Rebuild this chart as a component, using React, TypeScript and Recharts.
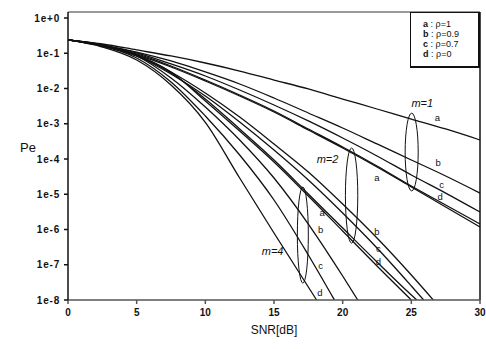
import { LineChart, Line, XAxis, YAxis, ReferenceLine, ReferenceArea, ReferenceDot } from "recharts";

// SNR grid (dB) shared by all curves
const snr = [0, 2.5, 5, 7.5, 10, 12.5, 15, 17.5, 20, 22.5, 25, 27.5, 30];

// Pe; truncated curves end where they hit 1e-8
const m1a = [0.238, 0.183, 0.124, 0.0836, 0.0529, 0.0313, 0.0174, 0.00968, 0.00503, 0.00262, 0.00136, 7.1e-4, 3.46e-4];
const m1b = [0.238, 0.171, 0.108, 0.0603, 0.0294, 0.0134, 0.00537, 0.00202, 7.57e-4, 2.67e-4, 9.37e-5, 3.3e-5, 1.08e-5];
const m1c = [0.238, 0.171, 0.102, 0.0496, 0.0226, 0.00906, 0.0034, 0.0012, 3.94e-4, 1.22e-4, 3.52e-5, 1.08e-5, 3.13e-6];
const m1d = [0.238, 0.161, 0.0953, 0.0435, 0.0174, 0.00654, 0.0023, 7.1e-4, 2.19e-4, 6.33e-5, 1.71e-5, 4.95e-6, 1.43e-6];
const m2a = [0.238, 0.161, 0.0892, 0.0407, 0.0163, 0.00612, 0.00215, 6.65e-4, 2.05e-4, 5.93e-5, 1.61e-5, 4.35e-6, 1.18e-6];
const m2b = [0.238, 0.171, 0.0892, 0.0294, 0.00745, 0.00155, 2.67e-4, 4.28e-5, 5.28e-6, 5.74e-7, 5.12e-8, 1e-8];
const m2c = [0.238, 0.161, 0.0836, 0.0258, 0.00612, 0.00112, 1.8e-4, 2.54e-5, 2.94e-6, 2.99e-7, 2.5e-8, 1e-8];
const m2d = [0.238, 0.161, 0.0836, 0.0275, 0.00503, 7.1e-4, 9.37e-5, 1.02e-5, 1.1e-6, 1.2e-7, 1.39e-8, 1e-8];
const m4a = [0.238, 0.171, 0.0892, 0.0294, 0.00442, 6.22e-4, 8.22e-5, 8.91e-6, 9.06e-7, 9.22e-8, 1e-8];
const m4b = [0.238, 0.161, 0.0836, 0.0199, 0.00299, 3.46e-4, 2.89e-5, 1.43e-6, 4.8e-8, 1e-8];
const m4c = [0.238, 0.161, 0.0733, 0.0153, 0.00166, 1.3e-4, 6.87e-6, 1.89e-7, 1e-8];
const m4d = [0.238, 0.15, 0.0644, 0.0126, 0.0011, 2.89e-5, 7.96e-7, 2.34e-8, 1e-8];

const yTicks = [1, 1e-1, 1e-2, 1e-3, 1e-4, 1e-5, 1e-6, 1e-7, 1e-8];
const xTicks = [0, 5, 10, 15, 20, 25, 30];
const legendRows = [
  ["a", "ρ=1"],
  ["b", "ρ=0.9"],
  ["c", "ρ=0.7"],
  ["d", "ρ=0"],
];

function pts(vals: number[], end?: number) {
  return vals.map((pe, i) => ({
    snr: end !== undefined && i === vals.length - 1 ? end : snr[i],
    pe,
  }));
}

const curves = [
  pts(m1a), pts(m1b), pts(m1c), pts(m1d),
  pts(m2a), pts(m2b, 26.6), pts(m2c, 25.9), pts(m2d, 25.4),
  pts(m4a), pts(m4b, 21.1), pts(m4c, 19.4), pts(m4d, 18.1),
];

// annotations: group ellipses and letters
const groups = [
  { m: "m=1", lx: 25.8, ly: 3.9e-3, x1: 24.55, x2: 25.5, y1: 2.0e-3, y2: 1.24e-5 },
  { m: "m=2", lx: 18.9, ly: 1e-4, x1: 20.2, x2: 21.1, y1: 2.05e-4, y2: 4.1e-7 },
  { m: "m=4", lx: 14.9, ly: 2.45e-7, x1: 16.7, x2: 17.5, y1: 1.6e-5, y2: 3.0e-8 },
];
const letters: [string, number, number][] = [
  ["a", 26.9, 1.46e-3], ["b", 26.95, 8.2e-5], ["c", 27.2, 1.9e-5], ["d", 27.1, 8.8e-6],
  ["a", 22.5, 3.08e-5], ["b", 22.5, 8.5e-7], ["c", 22.6, 2.8e-7], ["d", 22.6, 1.25e-7],
  ["a", 18.5, 3.13e-6], ["b", 18.4, 9.7e-7], ["c", 18.4, 9.8e-8], ["d", 18.35, 1.58e-8],
];

const sans = "'Liberation Sans', Arial, sans-serif";

function fmtExp(v: number) {
  const e = Math.round(Math.log10(v));
  return e >= 0 ? `1e+${e}` : `1e${e}`;
}

const textShape = (t: string, size: number, italic = false) => (p: any) => (
  <text
    x={p.cx}
    y={p.cy}
    textAnchor="middle"
    dominantBaseline="central"
    fontFamily={sans}
    fontSize={size}
    fontStyle={italic ? "italic" : "normal"}
    fill="#111"
  >
    {t}
  </text>
);

export default function App() {
  return (
    <div style={{ position: "absolute", left: 0, top: 0, width: 486, height: 349, background: "#fff" }}>
      <LineChart width={486} height={349} margin={{ top: 12, right: 6, left: 0, bottom: 0 }}>
        <XAxis
          dataKey="snr"
          type="number"
          domain={[0, 30]}
          ticks={xTicks}
          height={49}
          tickSize={4}
          tickMargin={5}
          stroke="#555"
          strokeWidth={1.5}
          tick={{ fill: "#111", fontSize: 10, fontWeight: "bold", fontFamily: sans }}
          label={{ value: "SNR[dB]", position: "insideBottom", offset: 15, fill: "#111", fontSize: 12, fontFamily: sans }}
        />
        <YAxis
          type="number"
          scale="log"
          domain={[1e-8, Math.pow(10, 0.17)]}
          allowDataOverflow
          ticks={yTicks}
          tickFormatter={fmtExp}
          width={68}
          tickSize={4}
          tickMargin={4}
          stroke="#111"
          strokeWidth={1.5}
          tick={{ fill: "#111", fontSize: 10, fontWeight: "bold", fontFamily: sans, letterSpacing: 0.8 }}
        />
        <ReferenceLine y={Math.pow(10, 0.17)} stroke="#777" strokeWidth={1.5} />
        <ReferenceLine x={30} stroke="#111" strokeWidth={1.5} />
        {curves.map((d, i) => (
          <Line
            key={i}
            data={d}
            dataKey="pe"
            type="monotone"
            stroke="#111"
            strokeWidth={1.3}
            dot={false}
            activeDot={false}
            isAnimationActive={false}
          />
        ))}
        {groups.map((g) => (
          <ReferenceArea
            key={g.m}
            x1={g.x1}
            x2={g.x2}
            y1={g.y1}
            y2={g.y2}
            ifOverflow="visible"
            shape={(p: any) => (
              <ellipse
                cx={p.x + p.width / 2}
                cy={p.y + p.height / 2}
                rx={Math.abs(p.width) / 2}
                ry={Math.abs(p.height) / 2}
                fill="none"
                stroke="#111"
                strokeWidth={1}
              />
            )}
          />
        ))}
        {groups.map((g) => (
          <ReferenceDot key={"l" + g.m} x={g.lx} y={g.ly} r={0} ifOverflow="visible" shape={textShape(g.m, 11, true)} />
        ))}
        {letters.map(([t, x, y], i) => (
          <ReferenceDot key={"t" + i} x={x} y={y} r={0} ifOverflow="visible" shape={textShape(t, 9.5)} />
        ))}
      </LineChart>
      <div
        style={{
          position: "absolute",
          left: 20,
          top: 140,
          fontFamily: sans,
          fontSize: 13,
          color: "#111",
        }}
      >
        Pe
      </div>
      <div
        style={{
          position: "absolute",
          left: 410,
          top: 12,
          width: 70,
          height: 56,
          border: "1px solid #111",
          borderRightWidth: 2,
          borderBottomWidth: 2,
          background: "#fff",
          boxSizing: "border-box",
          padding: "6px 0 0 12px",
          fontFamily: sans,
          fontSize: 9,
          lineHeight: "10px",
          color: "#111",
        }}
      >
        {legendRows.map(([k, v]) => (
          <div key={k} style={{ whiteSpace: "nowrap" }}>
            <b>{k}</b> : {v}
          </div>
        ))}
      </div>
    </div>
  );
}
